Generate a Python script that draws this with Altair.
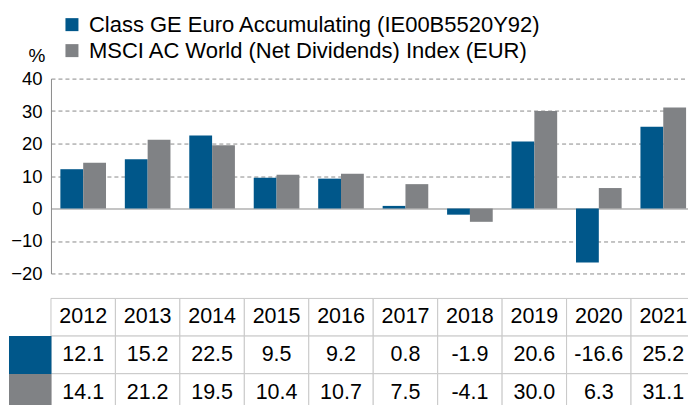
import altair as alt
import pandas as pd

years = ["2012", "2013", "2014", "2015", "2016", "2017", "2018", "2019", "2020", "2021"]
fund_values = [12.1, 15.2, 22.5, 9.5, 9.2, 0.8, -1.9, 20.6, -16.6, 25.2]
index_values = [14.1, 21.2, 19.5, 10.4, 10.7, 7.5, -4.1, 30.0, 6.3, 31.1]
y_ticks = [-20, -10, 0, 10, 20, 30, 40]

FUND = "Class GE Euro Accumulating (IE00B5520Y92)"
INDEX = "MSCI AC World (Net Dividends) Index (EUR)"
BLUE = "#00578a"
GRAY = "#808285"
AXIS = "#8a8a8a"
CELL = "#c8c8c8"

bar_df = pd.DataFrame({
    "year": years * 2,
    "series": [FUND] * len(years) + [INDEX] * len(years),
    "value": fund_values + index_values,
})

rows = ["Year", FUND, INDEX]
table_df = pd.DataFrame({
    "year": years * 3,
    "row": ["Year"] * len(years) + [FUND] * len(years) + [INDEX] * len(years),
    "label": years + [f"{v:.1f}" for v in fund_values] + [f"{v:.1f}" for v in index_values],
})

PLOT_W = 645

bars = alt.Chart(bar_df).mark_bar().encode(
    x=alt.X("year:N", axis=None, scale=alt.Scale(paddingInner=0.292, paddingOuter=0.146)),
    xOffset=alt.XOffset("series:N", sort=[FUND, INDEX]),
    y=alt.Y(
        "value:Q",
        scale=alt.Scale(domain=[-20, 40], nice=False),
        axis=alt.Axis(
            values=y_ticks, title="%", titleAngle=0, titleAlign="right", titleBaseline="middle",
            titleX=-6, titleY=-23, titleFontSize=19, titleFontWeight="normal", titleColor="black",
            labelFontSize=18.5, labelColor="black", labelPadding=9, ticks=False,
            domainColor=AXIS, grid=True, gridColor=AXIS,
            gridDash=alt.condition("datum.value === 0", alt.value([]), alt.value([4, 3])),
        ),
    ),
    color=alt.Color(
        "series:N",
        scale=alt.Scale(domain=[FUND, INDEX], range=[BLUE, GRAY]),
        legend=alt.Legend(
            title=None, orient="none", legendX=10, legendY=-65, direction="vertical",
            symbolType="square", symbolSize=169, symbolStrokeWidth=0, symbolOpacity=1,
            labelFontSize=22, labelColor="black", labelOffset=6, rowPadding=4,
            padding=0, labelLimit=700,
        ),
    ),
).properties(width=PLOT_W, height=195)

base = alt.Chart(table_df).encode(
    x=alt.X("year:N", axis=None, scale=alt.Scale(paddingInner=0, paddingOuter=0)),
    y=alt.Y(
        "row:N", sort=rows, scale=alt.Scale(paddingInner=0, paddingOuter=0),
        axis=alt.Axis(
            title=None, labels=False, domain=False, values=[FUND, INDEX],
            tickSize=42.5, tickWidth=38,
            tickColor=alt.condition(f"datum.value === '{FUND}'", alt.value(BLUE), alt.value(GRAY)),
        ),
    ),
)
cells = base.mark_rect(fill="white", stroke=CELL, strokeWidth=1)
texts = base.mark_text(fontSize=21.5, color="black").encode(text="label:N")
table = (cells + texts).properties(width=PLOT_W, height=113)

chart = (
    alt.vconcat(bars, table, spacing=14)
    .resolve_legend(color="independent")
    .properties(padding={"top": 5.5, "left": -19, "right": -8.5, "bottom": 0})
    .configure(font="Liberation Sans")
    .configure_view(strokeWidth=0)
)

chart.save("out.html", embed_options={"renderer": "svg", "actions": False})
